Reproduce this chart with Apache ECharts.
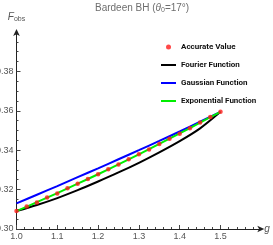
<!DOCTYPE html>
<html>
<head>
<meta charset="utf-8">
<script src="https://cdn.jsdelivr.net/npm/echarts@6/dist/echarts.min.js"></script>
<style>html,body{margin:0;padding:0;background:#fff}#c{width:273px;height:245px}</style>
</head>
<body>
<div id="c"></div>
<script>
// accurate values (red points)
var gPoints = [1.0,1.025,1.05,1.075,1.1,1.125,1.15,1.175,1.2,1.225,1.25,1.275,1.3,1.325,1.35,1.375,1.4,1.425,1.45,1.475,1.5];
var accurate = [0.3091,0.3114,0.3134,0.3160,0.3180,0.3207,0.3230,0.3254,0.3278,0.3303,0.3327,0.3354,0.3380,0.3404,0.3431,0.3458,0.3484,0.3512,0.3540,0.3568,0.3595];
// fitted curves
var gLine = [1.0,1.05,1.1,1.15,1.2,1.25,1.3,1.35,1.4,1.45,1.5];
var fourier = [0.3091,0.3122,0.3157,0.3197,0.3241,0.3287,0.3336,0.3389,0.3446,0.3511,0.3595];
var gaussian = [0.3130,0.3174,0.3218,0.3263,0.3308,0.3354,0.3400,0.3447,0.3495,0.3545,0.3595];
var exponential = [0.3091,0.3136,0.3182,0.3230,0.3278,0.3328,0.3379,0.3432,0.3485,0.3540,0.3595];
var xTicks = [1.0,1.1,1.2,1.3,1.4,1.5];
var yTicks = [0.30,0.32,0.34,0.36,0.38];

function pairs(xs, ys){ return xs.map(function(x,i){ return [x, ys[i]]; }); }

var chart = echarts.init(document.getElementById('c'), null, {renderer:'canvas'});
var labelFont = 'Liberation Sans, Arial, sans-serif';
var legendFont = 'Roboto, Liberation Sans, Arial, sans-serif';
var bar = 'path://M0 0H30V4H0Z';
chart.setOption({
  animation:false,
  title:{
    text:'Bardeen BH ({t|θ}{s|0}=17°)',
    left:95, top:2, padding:0,
    textStyle:{fontFamily:labelFont,fontSize:10,fontWeight:'normal',color:'#6e6e6e',
      rich:{t:{fontFamily:labelFont,fontSize:10,fontStyle:'italic',color:'#6e6e6e'},
            s:{fontFamily:labelFont,fontSize:7,color:'#6e6e6e',padding:[5,0,0,0]}}}
  },
  grid:{left:16.5,right:11.7,top:32,bottom:16,containLabel:false,outerBoundsMode:'none'},
  legend:{
    orient:'vertical', left:161, top:43, padding:0, itemWidth:15, itemHeight:5, itemGap:10,
    textStyle:{fontFamily:legendFont,fontSize:8,fontWeight:'bold',color:'#111'},
    data:[{name:'Accurate Value',icon:'circle'},
          {name:'Fourier Function',icon:bar},
          {name:'Gaussian Function',icon:bar},
          {name:'Exponential Function',icon:bar}]
  },
  xAxis:{
    type:'value', min:1.0, max:1.6, interval:0.1,
    name:'g', nameLocation:'end', nameGap:3,
    nameTextStyle:{fontFamily:labelFont,fontStyle:'italic',fontSize:10,color:'#555',verticalAlign:'middle'},
    axisLine:{lineStyle:{color:'#222',width:1},symbol:['none','arrow'],symbolSize:[5,7],symbolOffset:[0,3]},
    axisTick:{inside:true,length:4,lineStyle:{color:'#444'},customValues:xTicks},
    minorTick:{show:true,splitNumber:5,length:2,lineStyle:{color:'#444'}},
    axisLabel:{fontFamily:labelFont,fontSize:9,color:'#555',margin:3,customValues:xTicks,
      formatter:function(v){return v.toFixed(1);}},
    splitLine:{show:false}
  },
  yAxis:{
    type:'value', min:0.30, max:0.40, interval:0.02,
    name:'{f|F}{s|obs}', nameLocation:'end', nameGap:9,
    nameTextStyle:{rich:{f:{fontFamily:labelFont,fontStyle:'italic',fontSize:10,color:'#555'},
                         s:{fontFamily:labelFont,fontSize:7,color:'#555',padding:[4,0,0,0]}}},
    axisLine:{lineStyle:{color:'#222',width:1},symbol:['none','arrow'],symbolSize:[5,7],symbolOffset:[0,3]},
    axisTick:{inside:true,length:4,lineStyle:{color:'#444'},customValues:yTicks},
    minorTick:{show:true,splitNumber:4,length:2,lineStyle:{color:'#444'}},
    axisLabel:{fontFamily:labelFont,fontSize:9,color:'#555',margin:3,customValues:yTicks,
      formatter:function(v){return v.toFixed(2);}},
    splitLine:{show:false}
  },
  series:[
    {name:'Fourier Function',type:'line',data:pairs(gLine,fourier),smooth:0.3,symbol:'none',
      lineStyle:{color:'#000',width:2},itemStyle:{color:'#000'},z:2},
    {name:'Gaussian Function',type:'line',data:pairs(gLine,gaussian),smooth:0.3,symbol:'none',
      lineStyle:{color:'#0000ff',width:2},itemStyle:{color:'#0000ff'},z:2},
    {name:'Exponential Function',type:'line',data:pairs(gLine,exponential),smooth:0.3,symbol:'none',
      lineStyle:{color:'#00ee00',width:2},itemStyle:{color:'#00ee00'},z:3},
    {name:'Accurate Value',type:'scatter',data:pairs(gPoints,accurate),symbolSize:4.5,
      itemStyle:{color:'#ff1a1a'},z:4}
  ]
});
</script>
</body>
</html>
